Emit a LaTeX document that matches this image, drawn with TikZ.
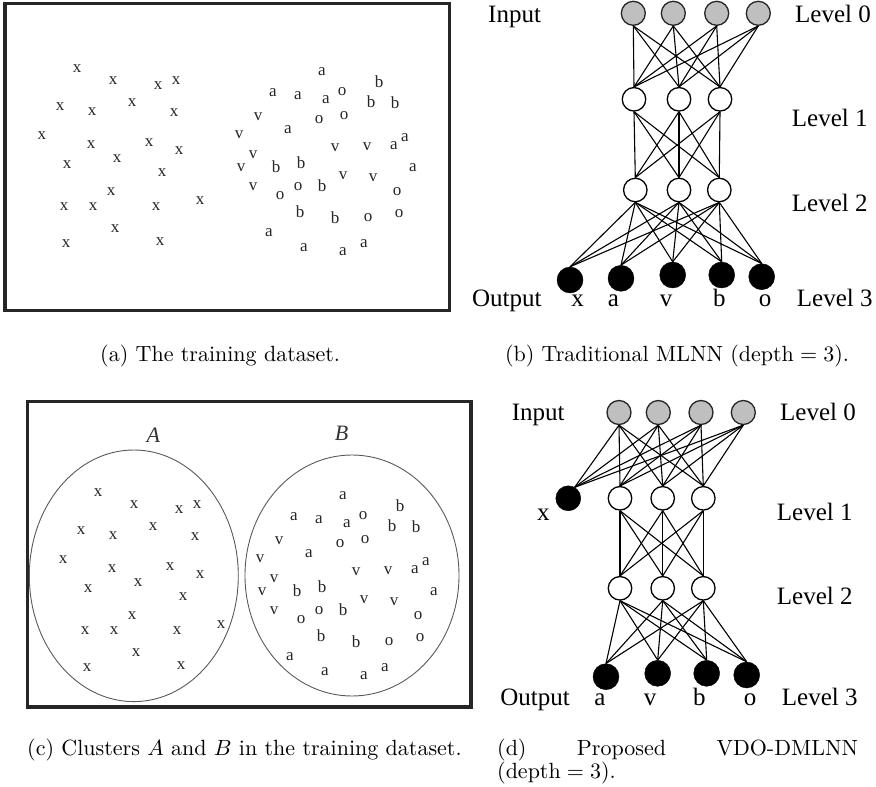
\documentclass[tikz,border=0pt]{standalone}
\usepackage{fontspec}
\usepackage{graphicx}
\newfontfamily\tnr{Liberation Serif}
\newcommand\capsz{\fontsize{10}{12}\selectfont}
\newcommand\scatterpts[1]{%
  \foreach \px/\py/\t [count=\i] in {77/69/x,113/81/x,158/86/x,176/81/x,60/107/x,92/112/x,132/103/x,174/113/x,42/136/x,91/145/x,149/143/x,179/151/x,67/165/x,117/159/x,162/173/x,111/192/x,64/207/x,93/207/x,156/207/x,200/201/x,115/229/x,66/244/x,160/242/x,
  322/72/a,379/82/b,273/93/a,298/96/a,326/100/a,342/92/o,371/102/b,395/103/b,258/117/v,319/120/o,344/116/o,288/130/a,239/135/v,335/148/v,367/147/v,394/146/a,405/138/a,253/155/v,241/168/v,276/167/b,301/163/b,413/168/a,343/176/v,373/178/v,253/187/v,280/196/o,298/187/o,322/186/b,397/192/o,300/212/b,335/218/b,368/218/o,399/214/o,269/233/a,304/248/a,343/252/a,364/244/a}
  {\node[pt] (#1\i) at (\px,\py) {\t};}%
}
\begin{document}
\begin{tikzpicture}[x=1pt,y=-1pt,
  lbl/.style={font=\tnr\fontsize{25}{30}\selectfont, inner sep=0},
  pt/.style={font=\tnr\fontsize{17}{20}\selectfont, inner sep=0, text=black!85},
  innode/.style={circle, draw=black!85, fill=black!25, line width=1.3pt, minimum size=24pt, inner sep=0},
  hidnode/.style={circle, draw=black, fill=white, line width=1.3pt, minimum size=23.5pt, inner sep=0},
  outnode/.style={circle, draw=black, fill=black, minimum size=26pt, inner sep=0},
  conn/.style={line width=1.1pt},
  frame/.style={line width=3.5pt, draw=black!85},
  clus/.style={line width=0.9pt, draw=black!65},
  cluslbl/.style={font=\tnr\itshape\fontsize{22}{26}\selectfont, inner sep=0, text=black!80}]
\useasboundingbox (0,0) rectangle (876,787);

% ---------- (a) training dataset ----------
\draw[frame] (5,3.5) rectangle (449.5,310.5);
\scatterpts{pa}

% ---------- (c) clusters ----------
\draw[frame] (27.7,401.5) rectangle (471,707);
\begin{scope}[shift={(21,424)}]
\scatterpts{pc}
\end{scope}
\draw[clus] (133.8,575.8) ellipse [x radius=104.5, y radius=125.8];
\draw[clus] (352,575.5) ellipse [x radius=107, y radius=120.5];
\node[cluslbl] (lA) at (153.3,435) {A};
\node[cluslbl] (lB) at (341.7,433.3) {B};

% ---------- (b) traditional MLNN ----------
\node[innode] (bi1) at (633.3,13.3) {};
\node[innode] (bi2) at (673.3,13.3) {};
\node[innode] (bi3) at (716.7,13.3) {};
\node[innode] (bi4) at (758.3,13.3) {};
\node[hidnode] (bh1) at (634,99.3) {};
\node[hidnode] (bh2) at (679,99.3) {};
\node[hidnode] (bh3) at (720,99.3) {};
\node[hidnode] (bg1) at (635.3,190) {};
\node[hidnode] (bg2) at (679,190) {};
\node[hidnode] (bg3) at (719.3,190) {};
\node[outnode] (bo1) at (570,280) {};
\node[outnode] (bo2) at (621,278.3) {};
\node[outnode] (bo3) at (672.7,275) {};
\node[outnode] (bo4) at (721.7,275) {};
\node[outnode] (bo5) at (761.7,276.7) {};
\foreach \i in {1,...,4}{\foreach \j in {1,2,3}{\draw[conn] (bi\i.south) -- (bh\j.north);}}
\foreach \i in {1,2,3}{\foreach \j in {1,2,3}{\draw[conn] (bh\i.south) -- (bg\j.north);}}
\foreach \i in {1,2,3}{\foreach \j in {1,...,5}{\draw[conn] (bg\i.south) -- (bo\j.north);}}
\node[lbl, anchor=base west] (bInput) at (488,22.7) {Input};
\node[lbl, anchor=base west] (bL0) at (795,22.7) {Level 0};
\node[lbl, anchor=base west] (bL1) at (791.7,126.7) {Level 1};
\node[lbl, anchor=base west] (bL2) at (791.7,211.7) {Level 2};
\node[lbl, anchor=base east] (bOut) at (541.7,306.7) {Output};
\node[lbl, anchor=base] (bx) at (577.7,306.7) {x};
\node[lbl, anchor=base] (ba) at (613.3,306.7) {a};
\node[lbl, anchor=base] (bv) at (666,306.7) {v};
\node[lbl, anchor=base] (bb) at (719.3,306.7) {b};
\node[lbl, anchor=base] (bo) at (765,306.7) {o};
\node[lbl, anchor=base west] (bL3) at (796.7,306.7) {Level 3};

% ---------- (d) proposed VDO-DMLNN ----------
\node[innode] (di1) at (619,412.5) {};
\node[innode] (di2) at (658.3,412.5) {};
\node[innode] (di3) at (701,412.5) {};
\node[innode] (di4) at (743.3,412.5) {};
\node[outnode, minimum size=25pt] (dx) at (568.3,498.3) {};
\node[hidnode] (dh1) at (620,498.3) {};
\node[hidnode] (dh2) at (662.7,498.3) {};
\node[hidnode] (dh3) at (703.3,498.3) {};
\node[hidnode] (dg1) at (620,588.3) {};
\node[hidnode] (dg2) at (662.7,588.3) {};
\node[hidnode] (dg3) at (703.3,588.3) {};
\node[outnode] (do1) at (606,676.7) {};
\node[outnode] (do2) at (657.7,673.3) {};
\node[outnode] (do3) at (706.7,673.3) {};
\node[outnode] (do4) at (746.7,675) {};
\foreach \i in {1,...,4}{\draw[conn] (di\i.south) -- (dx.60);}
\foreach \i in {1,...,4}{\foreach \j in {1,2,3}{\draw[conn] (di\i.south) -- (dh\j.north);}}
\foreach \i in {1,2,3}{\foreach \j in {1,2,3}{\draw[conn] (dh\i.south) -- (dg\j.north);}}
\foreach \i in {1,2,3}{\foreach \j in {1,...,4}{\draw[conn] (dg\i.south) -- (do\j.north);}}
\node[lbl, anchor=base west] (dInput) at (511.7,420.7) {Input};
\node[lbl, anchor=base west] (dL0) at (780,420.7) {Level 0};
\node[lbl, anchor=base] (dxl) at (543.3,520) {x};
\node[lbl, anchor=base west] (dL1) at (776.7,520) {Level 1};
\node[lbl, anchor=base west] (dL2) at (776.7,604) {Level 2};
\node[lbl, anchor=base east] (dOut) at (570,705) {Output};
\node[lbl, anchor=base] (da) at (600,705) {a};
\node[lbl, anchor=base] (dv) at (650,705) {v};
\node[lbl, anchor=base] (db) at (699.3,705) {b};
\node[lbl, anchor=base] (dol) at (750,705) {o};
\node[lbl, anchor=base west] (dL3) at (781.7,705) {Level 3};

% ---------- captions ----------
\node[inner sep=0, anchor=base west] (capa) at (100,361) {\scalebox{2.2}{\capsz (a) The training dataset.}};
\node[inner sep=0, anchor=base] (capb) at (677,361) {\scalebox{2.2}{\capsz (b) Traditional MLNN (depth${}={}$3).}};
\node[inner sep=0, anchor=base west] (capc) at (27,755) {\scalebox{2.2}{\capsz (c) Clusters $A$ and $B$ in the training dataset.}};
\node[inner sep=0, anchor=base west] (capd) at (497,755) {\scalebox{2.2}{\capsz\makebox[164pt][s]{(d) Proposed VDO-DMLNN}}};
\node[inner sep=0, anchor=base west] (capd2) at (497,778) {\scalebox{2.2}{\capsz (depth${}={}$3).}};
\end{tikzpicture}
\end{document}
